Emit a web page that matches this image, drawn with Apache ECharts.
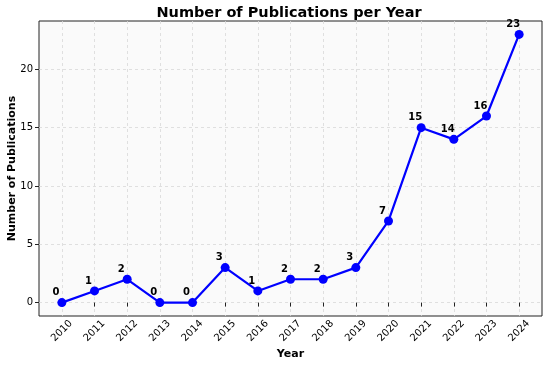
<!DOCTYPE html>
<html>
<head>
<meta charset="utf-8">
<script src="https://cdn.jsdelivr.net/npm/echarts@6/dist/echarts.min.js"></script>
<style>html,body{margin:0;padding:0;background:#fff}#c{width:550px;height:365px}</style>
</head>
<body>
<div id="c"></div>
<script>
const years = [2010, 2011, 2012, 2013, 2014, 2015, 2016, 2017, 2018, 2019, 2020, 2021, 2022, 2023, 2024];
const publications = [0, 1, 2, 0, 0, 3, 1, 2, 2, 3, 7, 15, 14, 16, 23];
const yTicks = [0, 5, 10, 15, 20];

const chart = echarts.init(document.getElementById('c'));
const FONT = 'DejaVu Sans';
chart.setOption({
  animation: false,
  textStyle: { fontFamily: FONT },
  title: {
    text: 'Number of Publications per Year',
    left: 284, top: 1, textAlign: 'center',
    textStyle: { fontFamily: FONT, fontSize: 14.5, fontWeight: 'bold', color: '#000' }
  },
  grid: {
    left: 39, right: 8, top: 21, bottom: 49,
    containLabel: false, outerBoundsMode: 'none',
    show: true, backgroundColor: '#fafafa', borderColor: '#222', borderWidth: 1
  },
  xAxis: {
    type: 'value',
    min: 2009.3, max: 2024.7,
    minInterval: 1, maxInterval: 1,
    name: 'Year', nameLocation: 'middle', nameGap: 33, nameMoveOverlap: false,
    nameTextStyle: { fontFamily: FONT, fontSize: 11, fontWeight: 'bold', color: '#000' },
    axisLine: { show: false },
    axisTick: { show: true, length: 4, lineStyle: { color: '#222' } },
    axisLabel: {
      rotate: 45, align: 'center', verticalAlign: 'middle', margin: 15,
      showMinLabel: false, showMaxLabel: false,
      fontFamily: FONT, fontSize: 10, color: '#000',
      formatter: v => (years.includes(v) ? String(v) : '')
    },
    splitLine: { show: true, showMinLine: false, showMaxLine: false, lineStyle: { color: '#d9d9d9', type: [3, 3], width: 0.8 } }
  },
  yAxis: {
    type: 'value',
    min: -1.15, max: 24.15,
    minInterval: 5, maxInterval: 5,
    name: 'Number of Publications', nameLocation: 'middle', nameGap: 21, nameMoveOverlap: false,
    nameTextStyle: { fontFamily: FONT, fontSize: 11, fontWeight: 'bold', color: '#000' },
    axisLine: { show: false },
    axisTick: { show: true, length: 4, lineStyle: { color: '#222' } },
    axisLabel: {
      margin: 6, showMinLabel: false, showMaxLabel: false,
      fontFamily: FONT, fontSize: 10, color: '#000',
      formatter: v => (yTicks.includes(v) ? String(v) : '')
    },
    splitLine: { show: true, showMinLine: false, showMaxLine: false, lineStyle: { color: '#d9d9d9', type: [3, 3], width: 0.8 } }
  },
  series: [{
    type: 'line',
    data: years.map((y, i) => [y, publications[i]]),
    symbol: 'circle', symbolSize: 9,
    lineStyle: { color: '#0000ff', width: 2.2 },
    itemStyle: { color: '#0000ff' },
    label: {
      show: true, position: 'inside', offset: [-6, -10],
      fontFamily: FONT, fontSize: 10, fontWeight: 'bold', color: '#000',
      formatter: p => String(p.value[1])
    }
  }]
});
</script>
</body>
</html>
